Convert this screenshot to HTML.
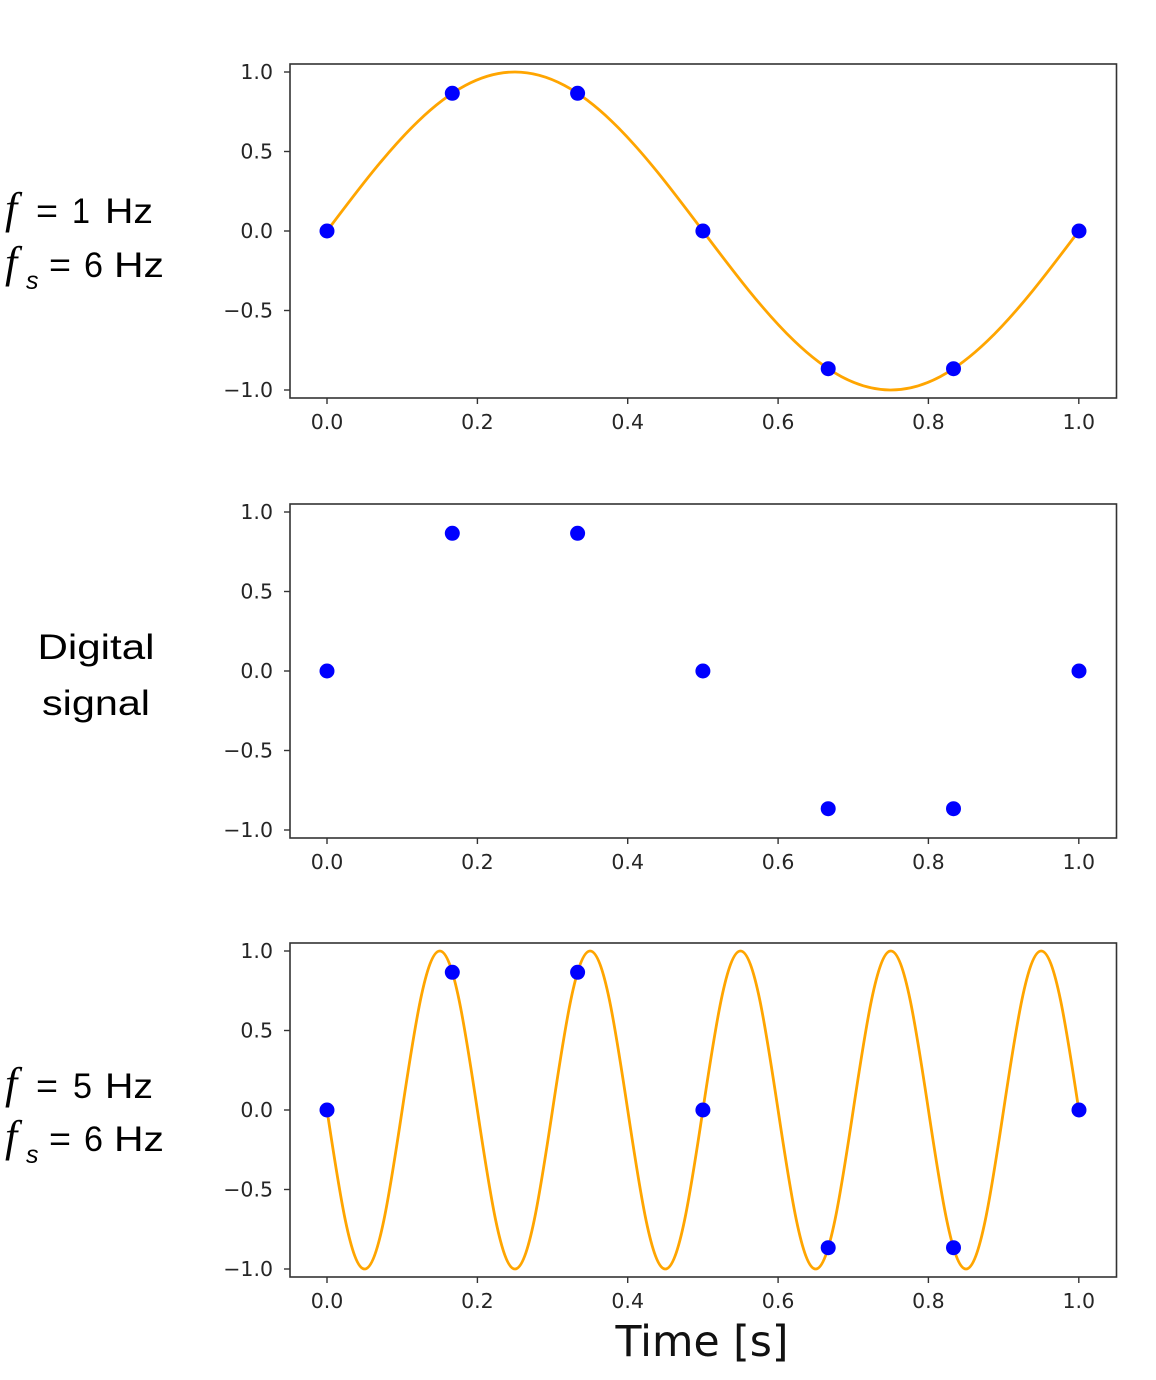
<!DOCTYPE html>
<html>
<head>
<meta charset="utf-8">
<style>
  html, body { margin: 0; padding: 0; background: #ffffff; }
  svg { display: block; }
  .tick { font-family: "DejaVu Sans", "Liberation Sans", sans-serif; font-size: 20.5px; fill: #262626; }
  .lbl { font-family: "Liberation Sans", sans-serif; font-size: 35px; fill: #000; }
  .fi { font-family: "Liberation Serif", serif; font-style: italic; font-size: 44px; fill: #000; }
  .sub { font-family: "Liberation Sans", sans-serif; font-style: italic; font-size: 25px; fill: #000; }
</style>
</head>
<body>
<svg width="1156" height="1380" viewBox="0 0 1156 1380" xmlns="http://www.w3.org/2000/svg">
  <rect width="1156" height="1380" fill="#ffffff"/>

  <!-- ===== Panel 1 ===== -->
  <g>
    <path transform="translate(327,231) scale(119.65,-159)" vector-effect="non-scaling-stroke"
      fill="none" stroke="#ffa500" stroke-width="2.8" stroke-linecap="round"
      d="M0,0 c0.5123,0.5123 1.0023,1 1.5708,1 c0.5685,0 1.0585,-0.4877 1.5708,-1 c0.5123,-0.5123 1.0023,-1 1.5708,-1 c0.5685,0 1.0585,0.4877 1.5708,1"/>
    <g fill="#0000ff">
      <circle cx="327" cy="231" r="7.5"/>
      <circle cx="452.3" cy="93.3" r="7.5"/>
      <circle cx="577.6" cy="93.3" r="7.5"/>
      <circle cx="702.9" cy="231" r="7.5"/>
      <circle cx="828.2" cy="368.7" r="7.5"/>
      <circle cx="953.5" cy="368.7" r="7.5"/>
      <circle cx="1079" cy="231" r="7.5"/>
    </g>
    <rect x="290" y="64" width="826.5" height="334" fill="none" stroke="#333" stroke-width="1.6"/>
    <g stroke="#333" stroke-width="1.4">
      <line x1="284" y1="72" x2="290" y2="72"/>
      <line x1="284" y1="151.5" x2="290" y2="151.5"/>
      <line x1="284" y1="231" x2="290" y2="231"/>
      <line x1="284" y1="310.5" x2="290" y2="310.5"/>
      <line x1="284" y1="390" x2="290" y2="390"/>
      <line x1="327" y1="398" x2="327" y2="404"/>
      <line x1="477.4" y1="398" x2="477.4" y2="404"/>
      <line x1="627.7" y1="398" x2="627.7" y2="404"/>
      <line x1="778.1" y1="398" x2="778.1" y2="404"/>
      <line x1="928.4" y1="398" x2="928.4" y2="404"/>
      <line x1="1078.8" y1="398" x2="1078.8" y2="404"/>
    </g>
    <g class="tick" text-anchor="end">
      <text x="273" y="79">1.0</text>
      <text x="273" y="158.5">0.5</text>
      <text x="273" y="238">0.0</text>
      <text x="273" y="317.5">−0.5</text>
      <text x="273" y="397">−1.0</text>
    </g>
    <g class="tick" text-anchor="middle">
      <text x="327" y="429">0.0</text>
      <text x="477.4" y="429">0.2</text>
      <text x="627.7" y="429">0.4</text>
      <text x="778.1" y="429">0.6</text>
      <text x="928.4" y="429">0.8</text>
      <text x="1078.8" y="429">1.0</text>
    </g>
  </g>

  <!-- ===== Panel 2 ===== -->
  <g>
    <g fill="#0000ff">
      <circle cx="327" cy="671" r="7.5"/>
      <circle cx="452.3" cy="533.3" r="7.5"/>
      <circle cx="577.6" cy="533.3" r="7.5"/>
      <circle cx="702.9" cy="671" r="7.5"/>
      <circle cx="828.2" cy="808.7" r="7.5"/>
      <circle cx="953.5" cy="808.7" r="7.5"/>
      <circle cx="1079" cy="671" r="7.5"/>
    </g>
    <rect x="290" y="504" width="826.5" height="334" fill="none" stroke="#333" stroke-width="1.6"/>
    <g stroke="#333" stroke-width="1.4">
      <line x1="284" y1="512" x2="290" y2="512"/>
      <line x1="284" y1="591.5" x2="290" y2="591.5"/>
      <line x1="284" y1="671" x2="290" y2="671"/>
      <line x1="284" y1="750.5" x2="290" y2="750.5"/>
      <line x1="284" y1="830" x2="290" y2="830"/>
      <line x1="327" y1="838" x2="327" y2="844"/>
      <line x1="477.4" y1="838" x2="477.4" y2="844"/>
      <line x1="627.7" y1="838" x2="627.7" y2="844"/>
      <line x1="778.1" y1="838" x2="778.1" y2="844"/>
      <line x1="928.4" y1="838" x2="928.4" y2="844"/>
      <line x1="1078.8" y1="838" x2="1078.8" y2="844"/>
    </g>
    <g class="tick" text-anchor="end">
      <text x="273" y="519">1.0</text>
      <text x="273" y="598.5">0.5</text>
      <text x="273" y="678">0.0</text>
      <text x="273" y="757.5">−0.5</text>
      <text x="273" y="837">−1.0</text>
    </g>
    <g class="tick" text-anchor="middle">
      <text x="327" y="869">0.0</text>
      <text x="477.4" y="869">0.2</text>
      <text x="627.7" y="869">0.4</text>
      <text x="778.1" y="869">0.6</text>
      <text x="928.4" y="869">0.8</text>
      <text x="1078.8" y="869">1.0</text>
    </g>
  </g>

  <!-- ===== Panel 3 ===== -->
  <g>
    <path transform="translate(327,1110) scale(23.93,159)" vector-effect="non-scaling-stroke"
      fill="none" stroke="#ffa500" stroke-width="2.8" stroke-linecap="round"
      d="M0,0
         c0.5123,0.5123 1.0023,1 1.5708,1 c0.5685,0 1.0585,-0.4877 1.5708,-1 c0.5123,-0.5123 1.0023,-1 1.5708,-1 c0.5685,0 1.0585,0.4877 1.5708,1
         c0.5123,0.5123 1.0023,1 1.5708,1 c0.5685,0 1.0585,-0.4877 1.5708,-1 c0.5123,-0.5123 1.0023,-1 1.5708,-1 c0.5685,0 1.0585,0.4877 1.5708,1
         c0.5123,0.5123 1.0023,1 1.5708,1 c0.5685,0 1.0585,-0.4877 1.5708,-1 c0.5123,-0.5123 1.0023,-1 1.5708,-1 c0.5685,0 1.0585,0.4877 1.5708,1
         c0.5123,0.5123 1.0023,1 1.5708,1 c0.5685,0 1.0585,-0.4877 1.5708,-1 c0.5123,-0.5123 1.0023,-1 1.5708,-1 c0.5685,0 1.0585,0.4877 1.5708,1
         c0.5123,0.5123 1.0023,1 1.5708,1 c0.5685,0 1.0585,-0.4877 1.5708,-1 c0.5123,-0.5123 1.0023,-1 1.5708,-1 c0.5685,0 1.0585,0.4877 1.5708,1"/>
    <g fill="#0000ff">
      <circle cx="327" cy="1110" r="7.5"/>
      <circle cx="452.3" cy="972.3" r="7.5"/>
      <circle cx="577.6" cy="972.3" r="7.5"/>
      <circle cx="702.9" cy="1110" r="7.5"/>
      <circle cx="828.2" cy="1247.7" r="7.5"/>
      <circle cx="953.5" cy="1247.7" r="7.5"/>
      <circle cx="1079" cy="1110" r="7.5"/>
    </g>
    <rect x="290" y="943" width="826.5" height="334" fill="none" stroke="#333" stroke-width="1.6"/>
    <g stroke="#333" stroke-width="1.4">
      <line x1="284" y1="951" x2="290" y2="951"/>
      <line x1="284" y1="1030.5" x2="290" y2="1030.5"/>
      <line x1="284" y1="1110" x2="290" y2="1110"/>
      <line x1="284" y1="1189.5" x2="290" y2="1189.5"/>
      <line x1="284" y1="1269" x2="290" y2="1269"/>
      <line x1="327" y1="1277" x2="327" y2="1283"/>
      <line x1="477.4" y1="1277" x2="477.4" y2="1283"/>
      <line x1="627.7" y1="1277" x2="627.7" y2="1283"/>
      <line x1="778.1" y1="1277" x2="778.1" y2="1283"/>
      <line x1="928.4" y1="1277" x2="928.4" y2="1283"/>
      <line x1="1078.8" y1="1277" x2="1078.8" y2="1283"/>
    </g>
    <g class="tick" text-anchor="end">
      <text x="273" y="958">1.0</text>
      <text x="273" y="1037.5">0.5</text>
      <text x="273" y="1117">0.0</text>
      <text x="273" y="1196.5">−0.5</text>
      <text x="273" y="1276">−1.0</text>
    </g>
    <g class="tick" text-anchor="middle">
      <text x="327" y="1308">0.0</text>
      <text x="477.4" y="1308">0.2</text>
      <text x="627.7" y="1308">0.4</text>
      <text x="778.1" y="1308">0.6</text>
      <text x="928.4" y="1308">0.8</text>
      <text x="1078.8" y="1308">1.0</text>
    </g>
    <text x="702" y="1356" text-anchor="middle" font-family="'DejaVu Sans', 'Liberation Sans', sans-serif" font-size="43" fill="#111" textLength="173" lengthAdjust="spacingAndGlyphs">Time [s]</text>
  </g>

  <!-- ===== Left labels ===== -->
  <!-- Panel 1 -->
  <text class="fi" x="5" y="223">f</text>
  <text class="lbl" x="36" y="223" textLength="22" lengthAdjust="spacingAndGlyphs">=</text>
  <text class="lbl" x="72" y="223" textLength="18" lengthAdjust="spacingAndGlyphs">1</text>
  <text class="lbl" x="105" y="223" textLength="48" lengthAdjust="spacingAndGlyphs">Hz</text>

  <text class="fi" x="5" y="277">f</text>
  <text class="sub" x="26" y="289">s</text>
  <text class="lbl" x="49" y="277" textLength="22" lengthAdjust="spacingAndGlyphs">=</text>
  <text class="lbl" x="84" y="277" textLength="19" lengthAdjust="spacingAndGlyphs">6</text>
  <text class="lbl" x="114" y="277" textLength="50" lengthAdjust="spacingAndGlyphs">Hz</text>

  <!-- Panel 2 -->
  <text class="lbl" x="96" y="659" text-anchor="middle" font-size="43" textLength="117" lengthAdjust="spacingAndGlyphs">Digital</text>
  <text class="lbl" x="96" y="715" text-anchor="middle" font-size="43" textLength="108" lengthAdjust="spacingAndGlyphs">signal</text>

  <!-- Panel 3 -->
  <text class="fi" x="5" y="1098">f</text>
  <text class="lbl" x="36" y="1098" textLength="22" lengthAdjust="spacingAndGlyphs">=</text>
  <text class="lbl" x="73" y="1098" textLength="19" lengthAdjust="spacingAndGlyphs">5</text>
  <text class="lbl" x="105" y="1098" textLength="48" lengthAdjust="spacingAndGlyphs">Hz</text>

  <text class="fi" x="5" y="1151">f</text>
  <text class="sub" x="26" y="1163">s</text>
  <text class="lbl" x="49" y="1151" textLength="22" lengthAdjust="spacingAndGlyphs">=</text>
  <text class="lbl" x="84" y="1151" textLength="19" lengthAdjust="spacingAndGlyphs">6</text>
  <text class="lbl" x="114" y="1151" textLength="50" lengthAdjust="spacingAndGlyphs">Hz</text>
</svg>
</body>
</html>
